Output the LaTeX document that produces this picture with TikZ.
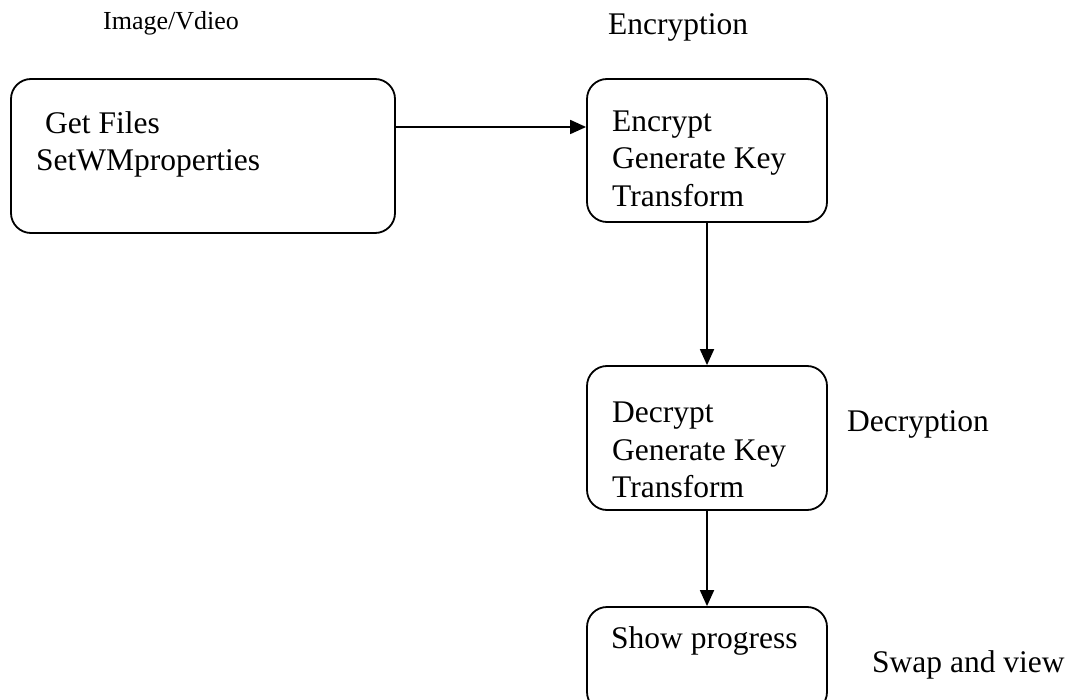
\documentclass[tikz,border=0pt]{standalone}
\usepackage{fontspec}
\setmainfont{Liberation Serif}
\usetikzlibrary{arrows.meta}
\begin{document}
\begin{tikzpicture}[x=1pt,y=-1pt,
  box/.style={draw, line width=1.8pt, rounded corners=20pt, inner sep=0pt, minimum width=240pt},
  txt/.style={anchor=base west, inner sep=0pt, align=left, font=\fontsize{31.5}{37.5}\selectfont},
  lbl/.style={anchor=base west, inner sep=0pt, font=\fontsize{31.5}{37.5}\selectfont},
  arr/.style={line width=1.8pt, -{Triangle[length=16pt,width=14pt]}}]
\useasboundingbox (0,0) rectangle (1070,700);
\clip (0,0) rectangle (1070,700);
% boxes
\node[box, minimum width=384pt, minimum height=154pt] (b1) at (203,156) {};
\node[box, minimum height=143pt] (b2) at (707,150.5) {};
\node[box, minimum height=144pt] (b3) at (707,438) {};
\node[box, minimum height=105pt] (b4) at (707,659.5) {};
% box texts
\node[txt] (t1) at (36,171) {\hspace*{9pt}Get Files\\SetWMproperties};
\node[txt] (t2) at (612,206.5) {Encrypt\\Generate Key\\Transform};
\node[txt] (t3) at (612,497.5) {Decrypt\\Generate Key\\Transform};
\node[lbl] (t4) at (611,648) {Show progress};
% side labels
\node[lbl, font=\fontsize{26}{30}\selectfont] (l1) at (103,30) {Image/Vdieo};
\node[lbl] (l2) at (608,35) {Encryption};
\node[lbl] (l3) at (847,431) {Decryption};
\node[lbl] (l4) at (872,672) {Swap and view};
% connectors
\coordinate (y1) at (0,127);
\draw[arr] (b1.east |- y1) -- (b2.west |- y1);
\draw[arr] (b2.south) -- (b3.north);
\draw[arr] (b3.south) -- (b4.north);
\end{tikzpicture}
\end{document}
